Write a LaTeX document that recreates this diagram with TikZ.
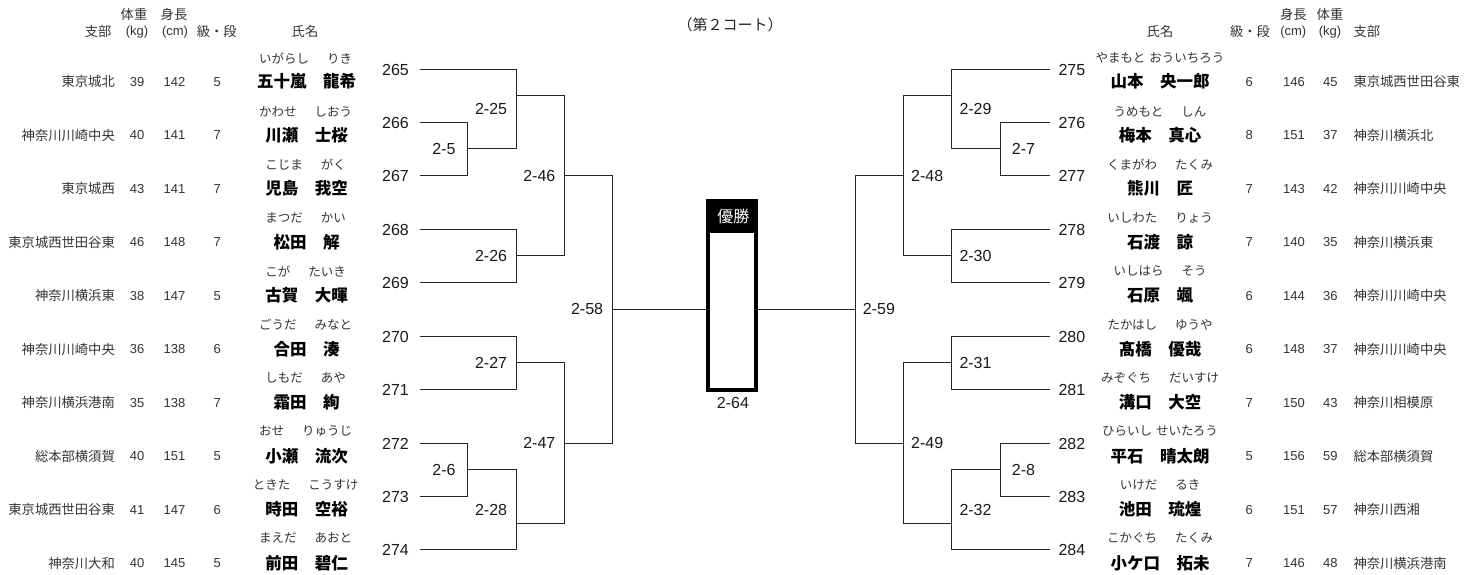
\documentclass[tikz,border=0pt]{standalone}
\usepackage{fontspec}
\setmainfont{Liberation Sans}
\newfontfamily\jp{Noto Sans CJK JP}
\usetikzlibrary{calc}
\newcommand\rgap{\hspace{18pt}}
\newcommand\rgapsm{\hspace{4pt}}
\tikzset{
  tbl/.style={inner sep=0pt, text=black!80, font=\fontsize{13}{13}\selectfont},
  tbljp/.style={inner sep=0pt, text=black!80, font=\jp\fontsize{13.3}{13.3}\selectfont},
  furi/.style={inner sep=0pt, text=black!80, font=\jp\fontsize{12.5}{12.5}\selectfont},
  pname/.style={inner sep=0pt, text=black, font=\jp\bfseries\fontsize{16.5}{16.5}\selectfont},
  num/.style={inner sep=0pt, text=black!90, font=\fontsize{16}{16}\selectfont},
  mlbl/.style={inner sep=0pt, text=black!90, font=\fontsize{16}{16}\selectfont},
  wire/.style={draw=black!85, line width=1.45pt},
}
\begin{document}
\begin{tikzpicture}[x=1pt,y=-1pt]
\useasboundingbox (0,0) rectangle (1479,575);

% title
\node[inner sep=0pt, text=black!85, font=\jp\fontsize{15}{15}\selectfont] (title) at (730,25) {（第２コート）};

% headers left
\node[tbljp, anchor=east] (hbrL) at (111.7,31.7) {支部};
\node[tbljp] (hwL1) at (134,14) {体重};
\node[tbl] (hwL2) at (137,31.7) {(kg)};
\node[tbljp] (hhL1) at (174,14) {身長};
\node[tbl] (hhL2) at (175,31.7) {(cm)};
\node[tbljp] (hgL) at (216.7,31.7) {級・段};
\node[tbljp] (hnL) at (305,31.7) {氏名};
% headers right
\node[tbljp] (hnR) at (1160,31.7) {氏名};
\node[tbljp] (hgR) at (1250,31.7) {級・段};
\node[tbljp] (hhR1) at (1293.3,14) {身長};
\node[tbl] (hhR2) at (1293.3,31.7) {(cm)};
\node[tbljp] (hwR1) at (1330,14) {体重};
\node[tbl] (hwR2) at (1330,31.7) {(kg)};
\node[tbljp, anchor=west] (hbrR) at (1353.3,31.7) {支部};

% left entries
\foreach \k/\br/\w/\h/\g/\fu/\nm [count=\c from 0] in {
265/東京城北/39/142/5/いがらし\rgap りき/五十嵐　龍希,
266/神奈川川崎中央/40/141/7/かわせ\rgap しおう/川瀬　士桜,
267/東京城西/43/141/7/こじま\rgap がく/児島　我空,
268/東京城西世田谷東/46/148/7/まつだ\rgap かい/松田　解,
269/神奈川横浜東/38/147/5/こが\rgap たいき/古賀　大暉,
270/神奈川川崎中央/36/138/6/ごうだ\rgap みなと/合田　湊,
271/神奈川横浜港南/35/138/7/しもだ\rgap あや/霜田　絢,
272/総本部横須賀/40/151/5/おせ\rgap りゅうじ/小瀬　流次,
273/東京城西世田谷東/41/147/6/ときた\rgap こうすけ/時田　空裕,
274/神奈川大和/40/145/5/まえだ\rgap あおと/前田　碧仁}{
  \pgfmathsetmacro\ly{floor(69+53.44*\c)+0.5}
  \pgfmathsetmacro\ry{81.7+53.5*\c}
  \pgfmathsetmacro\fy{58.3+53.3*\c}
  \node[tbljp, anchor=east] (br\k) at (115,\ry) {\br};
  \node[tbl] (wt\k) at (137,\ry) {\w};
  \node[tbl] (ht\k) at (174.5,\ry) {\h};
  \node[tbl] (gr\k) at (217.3,\ry) {\g};
  \node[furi] (fu\k) at (305.5,\fy) {\fu};
  \node[pname] (nm\k) at (306.7,\ry) {\nm};
  \node[num, anchor=east] (n\k) at (409,\ly) {\k};
  \coordinate (e\k) at (419.5,\ly);
}

% right entries
\foreach \k/\fu/\nm/\g/\h/\w/\br [count=\c from 0] in {
275/やまもと\rgapsm おういちろう/山本　央一郎/6/146/45/東京城西世田谷東,
276/うめもと\rgap しん/梅本　真心/8/151/37/神奈川横浜北,
277/くまがわ\rgap たくみ/熊川　匠/7/143/42/神奈川川崎中央,
278/いしわた\rgap りょう/石渡　諒/7/140/35/神奈川横浜東,
279/いしはら\rgap そう/石原　颯/6/144/36/神奈川川崎中央,
280/たかはし\rgap ゆうや/髙橋　優哉/6/148/37/神奈川川崎中央,
281/みぞぐち\rgap だいすけ/溝口　大空/7/150/43/神奈川相模原,
282/ひらいし\rgapsm せいたろう/平石　晴太朗/5/156/59/総本部横須賀,
283/いけだ\rgap るき/池田　琉煌/6/151/57/神奈川西湘,
284/こかぐち\rgap たくみ/小ケ口　拓未/7/146/48/神奈川横浜港南}{
  \pgfmathsetmacro\ly{floor(69+53.44*\c)+0.5}
  \pgfmathsetmacro\ry{81.7+53.5*\c}
  \pgfmathsetmacro\fy{58.3+53.3*\c}
  \node[num, anchor=west] (n\k) at (1058.3,\ly) {\k};
  \coordinate (e\k) at (1049.5,\ly);
  \node[furi] (fu\k) at (1160,\fy) {\fu};
  \node[pname] (nm\k) at (1160,\ry) {\nm};
  \node[tbl] (gr\k) at (1249.3,\ry) {\g};
  \node[tbl] (ht\k) at (1294,\ry) {\h};
  \node[tbl] (wt\k) at (1330.3,\ry) {\w};
  \node[tbljp, anchor=west] (br\k) at (1353.3,\ry) {\br};
}

% match junctions, left
\coordinate (m5)  at (467.5,148.5);
\coordinate (m25) at (516.5,95.5);
\coordinate (m26) at (516.5,255.5);
\coordinate (m46) at (564.5,175.5);
\coordinate (m27) at (516.5,362.5);
\coordinate (m6)  at (467.5,469.5);
\coordinate (m28) at (516.5,523.5);
\coordinate (m47) at (564.5,443.5);
\coordinate (m58) at (612.5,309.5);
% match junctions, right
\coordinate (m7)  at (1000.5,148.5);
\coordinate (m29) at (951.5,95.5);
\coordinate (m30) at (951.5,255.5);
\coordinate (m48) at (903.5,175.5);
\coordinate (m31) at (951.5,362.5);
\coordinate (m8)  at (1000.5,469.5);
\coordinate (m32) at (951.5,523.5);
\coordinate (m49) at (903.5,443.5);
\coordinate (m59) at (855.5,309.5);

% left bracket
\draw[wire] (e266) -| (m5) |- (e267);
\draw[wire] (e265) -| (m25) |- (m5);
\draw[wire] (e268) -| (m26) |- (e269);
\draw[wire] (m25) -| (m46) |- (m26);
\draw[wire] (e270) -| (m27) |- (e271);
\draw[wire] (e272) -| (m6) |- (e273);
\draw[wire] (m6) -| (m28) |- (e274);
\draw[wire] (m27) -| (m47) |- (m28);
\draw[wire] (m46) -| (m58) |- (m47);
% right bracket
\draw[wire] (e276) -| (m7) |- (e277);
\draw[wire] (e275) -| (m29) |- (m7);
\draw[wire] (e278) -| (m30) |- (e279);
\draw[wire] (m29) -| (m48) |- (m30);
\draw[wire] (e280) -| (m31) |- (e281);
\draw[wire] (e282) -| (m8) |- (e283);
\draw[wire] (m8) -| (m32) |- (e284);
\draw[wire] (m31) -| (m49) |- (m32);
\draw[wire] (m48) -| (m59) |- (m49);

% match labels left
\node[mlbl, anchor=east] (l5)  at (455.7,149.16) {2-5};
\node[mlbl, anchor=east] (l25) at (507.3,109.1) {2-25};
\node[mlbl, anchor=east] (l26) at (507.3,256.04) {2-26};
\node[mlbl, anchor=east] (l46) at (555.5,175.88) {2-46};
\node[mlbl, anchor=east] (l58) at (603.3,309.48) {2-58};
\node[mlbl, anchor=east] (l27) at (507.3,362.92) {2-27};
\node[mlbl, anchor=east] (l6)  at (455.7,469.8) {2-6};
\node[mlbl, anchor=east] (l28) at (507.3,509.9) {2-28};
\node[mlbl, anchor=east] (l47) at (555.5,443.08) {2-47};
% match labels right
\node[mlbl, anchor=west] (l29) at (959.3,109.1) {2-29};
\node[mlbl, anchor=west] (l7)  at (1011.7,149.16) {2-7};
\node[mlbl, anchor=west] (l48) at (911,175.88) {2-48};
\node[mlbl, anchor=west] (l30) at (959.3,256.04) {2-30};
\node[mlbl, anchor=west] (l59) at (862.7,309.48) {2-59};
\node[mlbl, anchor=west] (l31) at (959.3,362.92) {2-31};
\node[mlbl, anchor=west] (l49) at (911,443.08) {2-49};
\node[mlbl, anchor=west] (l8)  at (1011.7,469.8) {2-8};
\node[mlbl, anchor=west] (l32) at (959.3,509.9) {2-32};

% champion box
\node[fill=black, inner sep=0pt, minimum width=51.7pt, minimum height=192.4pt] (champ) at (731.85,295.5) {};
\node[fill=white, inner sep=0pt, minimum width=44pt, minimum height=155.6pt] (champin) at (732,310.5) {};
\node[inner sep=0pt, text=white, font=\jp\fontsize{16}{16}\selectfont] (yusho) at (733.3,216.7) {優勝};
\node[mlbl] (l64) at (733,403.3) {2-64};
\draw[wire] (m58) -- (m58 -| champ.west);
\draw[wire] (champ.east |- m59) -- (m59);
\end{tikzpicture}
\end{document}
